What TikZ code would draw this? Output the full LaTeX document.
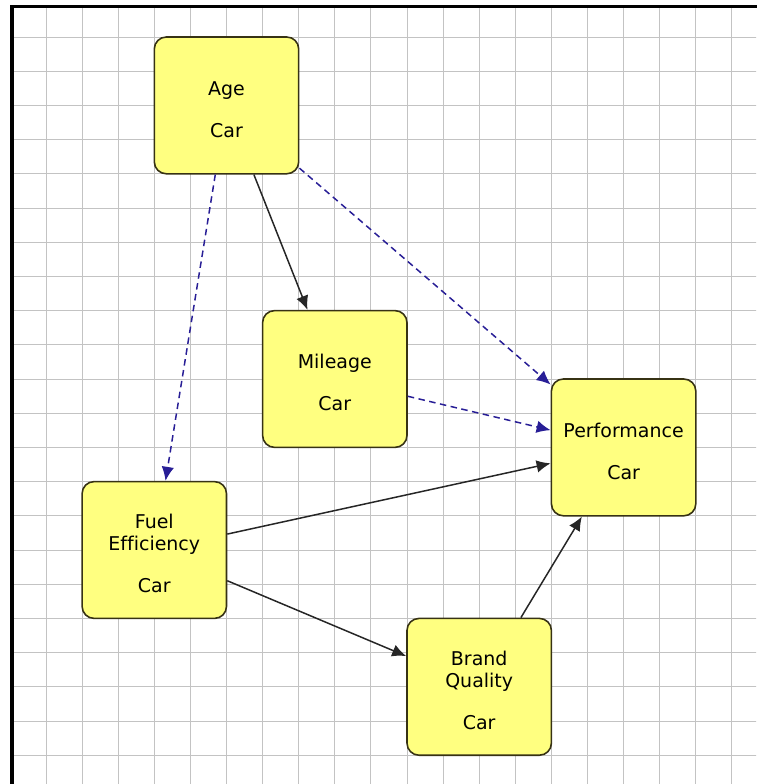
\documentclass[tikz,border=0pt]{standalone}
\usepackage{fontspec}
\setmainfont{DejaVu Sans}[Ligatures=NoCommon]
\usepackage{tikz}
\usetikzlibrary{arrows.meta}
\definecolor{carfill}{RGB}{255,255,128}
\definecolor{boxline}{RGB}{55,50,20}
\definecolor{navy}{RGB}{40,30,150}
\definecolor{gridgray}{RGB}{195,195,195}

\begin{document}
\begin{tikzpicture}[x=0.722cm, y=-0.684cm, >={Latex[length=2.8mm,width=2.5mm]},
carbox/.style={draw=boxline, line width=0.9pt, fill=carfill, rounded corners=0.24cm,
  minimum width=2.888cm, minimum height=2.736cm, inner sep=0pt, align=center,
  font=\fontsize{10.8}{12.5}\selectfont},
gridline/.style={gridgray, line width=0.5pt},
solidarr/.style={->, line width=0.85pt, black!85},
dasharr/.style={->, dash pattern=on 1.3mm off 0.9mm, line width=0.85pt, navy}]

\useasboundingbox (-1.2742,-1.0819) rectangle (19.668,21.842);

% paper grid
\begin{scope}
\clip (-0.9418,-0.892) rectangle (19.668,21.842);
\foreach \i in {-1,...,19} \draw [gridline] (\i,-1.1) -- (\i,21.9);
\foreach \j in {-1,...,21} \draw [gridline] (-1.3,\j) -- (19.7,\j);
\end{scope}
\draw [line width=2pt, line cap=rect] (-0.9418,21.9) -- (-0.9418,-0.892) -- (19.7,-0.892);

\node [carbox] (age) at (5,2) {\mbox{}\\Age\\[11.5pt]Car};
\node [carbox] (mileage) at (8,10) {\mbox{}\\Mileage\\[11.5pt]Car};
\node [carbox] (perf) at (16,12) {\mbox{}\\Performance\\[11.5pt]Car};
\node [carbox] (fuel) at (3,15) {\mbox{}\\Fuel\\Efficiency\\[11.5pt]Car};
\node [carbox] (brand) at (12,19) {\mbox{}\\Brand\\Quality\\[11.5pt]Car};

\draw [dasharr] (age) -- (fuel);
\draw [solidarr] (age) -- (mileage);
\draw [dasharr] (age) -- (perf);
\draw [dasharr] (mileage) -- (perf);
\draw [solidarr] (fuel) -- (perf);
\draw [solidarr] (fuel) -- (brand);
\draw [solidarr] (brand) -- (perf); % quality
\end{tikzpicture}
\end{document}
